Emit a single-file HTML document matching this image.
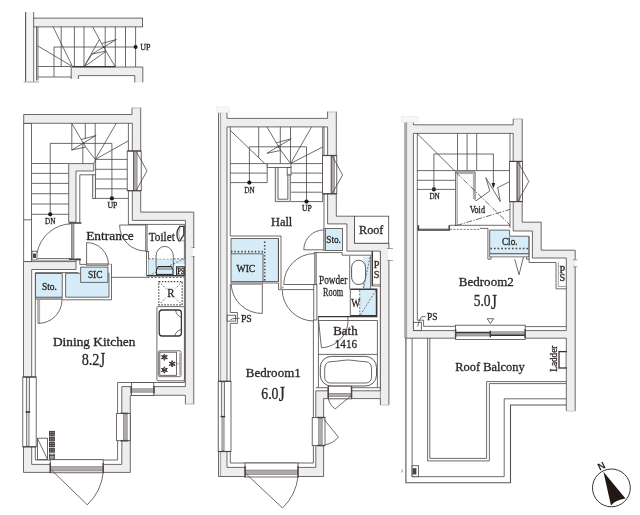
<!DOCTYPE html>
<html><head><meta charset="utf-8"><title>Floor plan</title>
<style>
html,body{margin:0;padding:0;background:#fff}
svg{display:block;will-change:transform}
text{font-family:"Liberation Serif",serif;fill:#2b2523;stroke:#2b2523;stroke-width:.3}
.l{fill:none;stroke:#4b4543;stroke-width:.8}
.lw{fill:#fff;stroke:#4b4543;stroke-width:.9}
.t{fill:none;stroke:#6a6462;stroke-width:.6}
.k{fill:none;stroke:#3a3433;stroke-width:1.4}
.w{fill:#eeeeee;stroke:#4b4543;stroke-width:.8;fill-rule:evenodd}
.wh{fill:#fff;stroke:#4b4543;stroke-width:.8}
.whn{fill:#fff;stroke:none}
.n{fill:#fff;stroke:#4b4543;stroke-width:.8}
.nf{fill:none;stroke:#4b4543;stroke-width:.8}
.b{fill:#d6ecf8;stroke:#4b4543;stroke-width:.8}
.bn{fill:#d6ecf8;stroke:none}
.g{fill:#aeaaa9;stroke:#6a6462;stroke-width:.5}
.g2{fill:#a9a5a4;stroke:#5a5452;stroke-width:.5}
.k2{fill:#4b4543;stroke:none}
.jp{fill:none;stroke:#3a3433;stroke-width:.9}
.d{fill:#231815;stroke:none}
.tk{fill:#d6ecf8;stroke:#2b2523;stroke-width:1.1}
.snk{fill:#fff;stroke:#3a3433;stroke-width:1.3}
.lb{fill:none;stroke:#3a3433;stroke-width:1}
.sash{fill:#e4e4e4;stroke:#4b4543;stroke-width:.7}
.trk{fill:#eef3f6;stroke:#4b4543;stroke-width:.7}
.dot3{fill:none;stroke:#4b4543;stroke-width:1.5;stroke-dasharray:1.6 2}
.lwf{fill:#f5f5f5;stroke:none}
.wf{fill:#eeeeee;stroke:none}
.k1{fill:none;stroke:#5a5452;stroke-width:1.1}
.jpb{fill:#a9a4a2;stroke:none}
.psb{fill:#fff;stroke:#3a3433;stroke-width:1.2}
.tk2{fill:none;stroke:#3a3433;stroke-width:1.6}
.cap{fill:#f7f7f7;stroke:#e8e8e8;stroke-width:.6}
.dashk{fill:none;stroke:#4b4543;stroke-width:1.2;stroke-dasharray:1.5 1.5}
.dash{fill:none;stroke:#4b4543;stroke-width:.8;stroke-dasharray:1.6 1.6}
.dsh{fill:none;stroke:#4b4543;stroke-width:.8;stroke-dasharray:2 1.6}
.dsh2{fill:none;stroke:#4b4543;stroke-width:.7;stroke-dasharray:2 1.4}
.dot{fill:none;stroke:#4b4543;stroke-width:1.6;stroke-dasharray:1.4 2}
.dot2{fill:none;stroke:#4b4543;stroke-width:1.2;stroke-dasharray:1.2 1.6}
.dd{fill:none;stroke:#4b4543;stroke-width:.8;stroke-dasharray:6 1.5 1.2 1.5}
.wl2{fill:none;stroke:#f4f4f4;stroke-width:1.2}
.wl{fill:none;stroke:#fff;stroke-width:.7}
</style></head><body>
<svg width="640" height="515" viewBox="0 0 640 515">
<rect width="640" height="515" fill="#fff"/>
<rect class="lwf" x="25.5" y="12" width="8.2" height="69.6" />
<rect class="w" x="33.7" y="18.1" width="108.9" height="8.8" />
<line class="k1" x1="25.6" y1="12" x2="25.6" y2="81.6" />
<line class="l" x1="33.7" y1="12" x2="33.7" y2="18.1" />
<line class="l" x1="33.7" y1="26.9" x2="33.7" y2="81.6" />
<line class="t" x1="23.6" y1="82" x2="39" y2="82" />
<polygon class="wf" points="71.2,67 142.8,67 142.8,82.4 134.8,82.4 134.8,75.6 78.4,75.6 78.4,79 71.2,79" />
<polyline class="l" points="71.2,79 71.2,67 142.8,67 142.8,82.4" />
<polyline class="l" points="78.4,79 78.4,75.6 134.8,75.6 134.8,82.4" />
<line class="l" x1="36.5" y1="26.7" x2="36.5" y2="80.5" />
<line class="l" x1="37.9" y1="26.7" x2="37.9" y2="80.5" />
<line class="l" x1="61.2" y1="26.7" x2="61.2" y2="67" />
<line class="l" x1="74.4" y1="26.7" x2="74.4" y2="67" />
<line class="l" x1="84" y1="26.7" x2="84" y2="67" />
<line class="l" x1="105.2" y1="26.7" x2="105.2" y2="67" />
<line class="l" x1="115.3" y1="26.7" x2="115.3" y2="67" />
<line class="l" x1="125.5" y1="26.7" x2="125.5" y2="67" />
<line class="l" x1="135.6" y1="26.7" x2="135.6" y2="67" />
<line class="l" x1="54" y1="47" x2="135.6" y2="47" />
<line class="l" x1="54" y1="47" x2="54" y2="77" />
<line class="l" x1="37.9" y1="66.5" x2="71.2" y2="66.5" />
<line class="l" x1="37.9" y1="77" x2="71.2" y2="77" />
<line class="l" x1="53" y1="26.7" x2="72.5" y2="66.5" />
<line class="l" x1="37.9" y1="46" x2="72.5" y2="66.5" />
<line class="k" x1="72.5" y1="66.6" x2="115" y2="66.6" />
<line class="l" x1="92.6" y1="26.7" x2="101.5" y2="43.5" />
<circle class="d" cx="103.8" cy="47.2" r="0.9"/>
<polygon class="nf" points="101.5,43.5 116.4,39.5 92.1,54 106,51.1" />
<line class="l" x1="106" y1="51.1" x2="115.4" y2="67" />
<line class="l" x1="83.9" y1="67" x2="99.3" y2="39.5" />
<line class="l" x1="83.9" y1="67" x2="92.1" y2="54" />
<line class="l" x1="83.9" y1="67" x2="106" y2="51.3" />
<circle class="d" cx="135.6" cy="47" r="2"/>
<text x="140.3" y="50.2" font-size="8.6" text-anchor="start" textLength="10.2" lengthAdjust="spacingAndGlyphs" >UP</text>
<rect class="wh" x="23.7" y="123.3" width="7.7" height="138.3" />
<line class="l" x1="23.7" y1="219.8" x2="31.4" y2="219.8" />
<polygon class="w" points="23.7,114.5 132,114.5 132,108 140.7,108 140.7,212.1 193.75,212.1 193.75,404 185.4,404 185.4,395.3 130.3,395.3 130.3,472.4 23.5,472.4 23.5,261.6 76,261.6 76,269.5 31.7,269.5 31.7,464.4 121.8,464.4 121.8,386.6 185.4,386.6 185.4,220.4 132.3,220.4 132.3,123.3 23.7,123.3" />
<polyline class="l" points="128.4,123.3 128.4,224.4 184.4,224.4 184.4,382.5 117.6,382.5 117.6,460 35.3,460 35.3,272.6 78.3,272.6" />
<polyline class="l" points="76,261.6 76,259 79.8,259 79.8,264.4 86.5,264.4" />
<polygon class="w" points="68.7,163.6 93.8,163.6 93.8,171 76,171 76,222.2 68.7,222.2" />
<polyline class="l" points="79.8,222.2 79.8,174.8 93.8,174.8" />
<rect class="w" x="92.7" y="174.8" width="2.9" height="23.6" />
<polyline class="l" points="93.8,163.6 95.6,159.4 95.6,174.8" />
<line class="l" x1="31.4" y1="163.5" x2="68.7" y2="163.5" />
<line class="l" x1="31.4" y1="173.4" x2="68.7" y2="173.4" />
<line class="l" x1="31.4" y1="183.4" x2="68.7" y2="183.4" />
<line class="l" x1="31.4" y1="193.7" x2="68.7" y2="193.7" />
<line class="l" x1="31.4" y1="204" x2="68.7" y2="204" />
<line class="l" x1="31.4" y1="214.3" x2="68.7" y2="214.3" />
<line class="l" x1="95.6" y1="159.4" x2="128.4" y2="159.4" />
<line class="l" x1="95.6" y1="169.3" x2="128.4" y2="169.3" />
<line class="l" x1="95.6" y1="179" x2="128.4" y2="179" />
<line class="l" x1="95.6" y1="188.8" x2="128.4" y2="188.8" />
<line class="l" x1="95.6" y1="198.4" x2="128.4" y2="198.4" />
<polyline class="l" points="50.2,214.3 50.2,143.4 111.9,143.4 111.9,198.4" />
<circle class="d" cx="50.2" cy="214.3" r="2.1"/>
<circle class="d" cx="111.9" cy="198.4" r="2.1"/>
<line class="l" x1="71.8" y1="123.3" x2="71.8" y2="150.3" />
<line class="l" x1="82.8" y1="143.4" x2="82.8" y2="163.5" />
<line class="l" x1="85.3" y1="123.3" x2="85.3" y2="139" />
<line class="l" x1="95.2" y1="123.3" x2="95.2" y2="159.4" />
<line class="l" x1="95.3" y1="159.4" x2="116.3" y2="123.3" />
<line class="l" x1="95.3" y1="159.4" x2="128.4" y2="140.8" />
<line class="l" x1="71.8" y1="123.3" x2="81.2" y2="139.5" />
<circle class="d" cx="83.5" cy="143.2" r="0.9"/>
<polygon class="nf" points="81.2,139.5 96.10000000000001,135.5 71.8,150 85.7,147.1" />
<line class="l" x1="85.7" y1="147.1" x2="95.2" y2="159.4" />
<text x="50.2" y="224" font-size="8" text-anchor="middle" textLength="10.4" lengthAdjust="spacingAndGlyphs" >DN</text>
<text x="112.4" y="207.8" font-size="8" text-anchor="middle" textLength="10" lengthAdjust="spacingAndGlyphs" >UP</text>
<rect class="wh" x="127.2" y="151" width="14.0" height="39.7" />
<rect class="g" x="133.6" y="151.6" width="3.5" height="38.6" />
<line class="l" x1="133.6" y1="151" x2="133.6" y2="190.7" />
<polyline class="l" points="136.3,151.6 147,170.9 136.3,190.2" />
<rect class="k2" x="127.6" y="150.4" width="13.4" height="1.2" />
<rect class="k2" x="127.6" y="190.1" width="13.4" height="1.2" />
<rect class="k2" x="68.7" y="222.2" width="12.7" height="1.6" />
<rect class="g2" x="71.3" y="223.8" width="2.7" height="35.0" />
<rect class="k2" x="68.9" y="258.6" width="12.1" height="1.8" />
<path class="l" d="M71.3,223.8 A35.5,35.5 0 0 0 37.2,252.5" />
<line class="l" x1="37.5" y1="258.6" x2="71" y2="258.6" />
<line class="t" x1="37.5" y1="260.4" x2="69" y2="260.4" />
<rect class="wh" x="32" y="251.2" width="5" height="8.8" />
<rect class="k2" x="33" y="253.5" width="3" height="4.5" />
<polygon class="b" points="65.6,273.3 80.6,273.3 80.6,267.1 107.9,267.1 107.9,273.3 109,273.3 109,297.2 65.6,297.2" />
<polyline class="l" points="80.6,273.3 80.6,282.4 107.9,282.4 107.9,273.3" />
<polyline class="l" points="111.5,264.2 111.5,299.8 62.2,299.8" />
<polyline class="t" points="107.9,267.1 107.9,264.2 111.5,264.2" />
<rect class="g2" x="86.2" y="263.8" width="21.6" height="1.8" />
<line class="l" x1="86.6" y1="242.6" x2="86.6" y2="264.4" />
<path class="l" d="M86.6,242.6 A21.8,21.8 0 0 1 108.4,264.4" />
<text x="87.9" y="277.5" font-size="10.8" text-anchor="start" textLength="14.6" lengthAdjust="spacingAndGlyphs" >SIC</text>
<rect class="b" x="35.4" y="273.4" width="26.8" height="23.8" />
<rect class="g2" x="35.4" y="297.2" width="26.8" height="2.2" />
<text x="41.9" y="290" font-size="10" text-anchor="start" textLength="15" lengthAdjust="spacingAndGlyphs" >Sto.</text>
<line class="l" x1="38" y1="300" x2="38" y2="323.4" />
<line class="t" x1="39.6" y1="300" x2="39.6" y2="323.4" />
<path class="l" d="M38,323.4 A23.6,23.6 0 0 0 62,299.6" />
<text x="86.2" y="239.8" font-size="13.2" text-anchor="start" textLength="47.6" lengthAdjust="spacingAndGlyphs" >Entrance</text>
<line class="l" x1="111.2" y1="277.3" x2="147.5" y2="277.3" />
<line class="l" x1="119.6" y1="225" x2="146" y2="225" />
<path class="l" d="M119.6,225 A26,26 0 0 0 146,251" />
<rect class="g2" x="145.3" y="224.6" width="1.9" height="26.7" />
<rect class="wh" x="146.6" y="251.3" width="1.8" height="24.5" />
<rect class="bn" x="148.4" y="258.8" width="36.0" height="17.0" />
<line class="dsh" x1="148.4" y1="258.8" x2="184.4" y2="258.8" />
<line class="dsh2" x1="148.6" y1="275.6" x2="184.2" y2="258.9" />
<rect class="whn" x="175.6" y="264.4" width="8.8" height="11.4" />
<rect class="psb" x="176.6" y="266.8" width="7.7" height="8.4" />
<text x="177.6" y="274.2" font-size="7.4" text-anchor="start" textLength="6.4" lengthAdjust="spacingAndGlyphs" font-weight="bold">PS</text>
<path class="whn" d="M156.1,258.8 V256 A8.6,9.6 0 0 1 173.3,256 V258.8 Z" />
<path class="l" d="M156.1,267.6 V256 A8.6,9.6 0 0 1 173.3,256 V267.6" />
<path class="tk" d="M158.4,266.6 H171.1 L173,269 V274.2 Q173,275 172,275 H157.4 Q156.4,275 156.4,274.2 V269 Z" />
<line class="l" x1="156.4" y1="269" x2="173" y2="269" />
<line class="k" x1="157" y1="274.6" x2="172.4" y2="274.6" />
<line class="k" x1="147.2" y1="275.8" x2="184.4" y2="275.8" />
<line class="dsh" x1="147.4" y1="277.5" x2="184" y2="277.5" />
<path class="snk" d="M179.8,226.4 H183.8 V234.6 L180,240.8 H178.8 Q174.4,233.4 179.8,226.4 Z" />
<path class="t" d="M180.2,227.4 Q177.4,233 179.6,239" />
<line class="t" x1="179" y1="240.8" x2="184.4" y2="240.8" />
<text x="148.8" y="241.3" font-size="13.2" text-anchor="start" textLength="26" lengthAdjust="spacingAndGlyphs" >Toilet</text>
<rect class="whn" x="192.8" y="247.6" width="2.2" height="9.0" />
<line class="t" x1="191.5" y1="247.6" x2="195" y2="247.6" />
<line class="t" x1="191.5" y1="256.6" x2="195" y2="256.6" />
<rect class="dashk" x="158.8" y="281.6" width="23.4" height="23.2" />
<line class="dash" x1="158.8" y1="281.6" x2="182.2" y2="304.8" />
<line class="dash" x1="182.2" y1="281.6" x2="158.8" y2="304.8" />
<rect class="whn" x="166" y="287.5" width="9.5" height="10.5" />
<text x="167.2" y="296.6" font-size="12" text-anchor="start" textLength="7.2" lengthAdjust="spacingAndGlyphs" >R</text>
<rect class="wh" x="156.9" y="306.6" width="27.5" height="74.2" rx="1.2"/>
<rect class="snk" x="159.2" y="310" width="22.2" height="26" rx="3"/>
<path class="l" d="M175.6,310 Q176.4,315.6 181.4,317.3 M174.8,336 Q176,330.6 181.4,329.6" />
<rect class="wh" x="158.3" y="350.8" width="22.7" height="25.9" rx="1.5"/>
<rect class="wh" x="159.8" y="352.2" width="16.6" height="23.1" />
<line class="t" x1="179.7" y1="353" x2="179.7" y2="375" />
<g transform="translate(164.4,357.2)"><circle class="k" r="0.9"/><path class="lb" d="M0,-3.2L0.9,-1.2 3,-1.6 1.5,0 3,1.6 0.9,1.2 0,3.2 -0.9,1.2 -3,1.6 -1.5,0 -3,-1.6 -0.9,-1.2Z"/></g>
<g transform="translate(172.2,363.8)"><circle class="k" r="0.9"/><path class="lb" d="M0,-3.2L0.9,-1.2 3,-1.6 1.5,0 3,1.6 0.9,1.2 0,3.2 -0.9,1.2 -3,1.6 -1.5,0 -3,-1.6 -0.9,-1.2Z"/></g>
<g transform="translate(164.4,370)"><circle class="k" r="0.9"/><path class="lb" d="M0,-3.2L0.9,-1.2 3,-1.6 1.5,0 3,1.6 0.9,1.2 0,3.2 -0.9,1.2 -3,1.6 -1.5,0 -3,-1.6 -0.9,-1.2Z"/></g>
<line class="t" x1="176.3" y1="363.8" x2="179.7" y2="363.8" />
<rect class="wh" x="131.4" y="382.6" width="22.4" height="12.9" />
<rect class="g" x="131.8" y="388.8" width="21.6" height="3.4" />
<rect class="k2" x="130.4" y="386" width="1.5" height="7.4" />
<rect class="k2" x="153.3" y="386" width="1.5" height="7.4" />
<rect class="wh" x="116.6" y="413.4" width="13.6" height="27.3" />
<rect class="g" x="123.4" y="414" width="3.8" height="26.1" />
<rect class="k2" x="120.5" y="412.6" width="7.9" height="1.4" />
<rect class="k2" x="120.5" y="440.1" width="7.9" height="1.4" />
<rect class="wh" x="22.8" y="377" width="13.4" height="69.8" />
<rect class="sash" x="26.3" y="377.6" width="3.3" height="34.4" />
<rect class="sash" x="26.7" y="412" width="2.3" height="34.2" />
<line class="k" x1="25.6" y1="412" x2="30.2" y2="412" />
<rect class="k2" x="22.8" y="376.4" width="13.4" height="1.2" />
<rect class="k2" x="22.8" y="446.2" width="13.4" height="1.2" />
<rect class="wh" x="50.2" y="459.7" width="53.0" height="13.1" />
<rect class="g" x="50.6" y="466.6" width="52.2" height="4.4" />
<rect class="k2" x="49.6" y="463" width="1.4" height="10" />
<rect class="k2" x="102.5" y="463" width="1.4" height="10" />
<path class="l" d="M50.4,469 L87.3,504.8 A52,52 0 0 0 103.2,472.8" />
<rect class="wh" x="37.4" y="438.2" width="10.1" height="21.2" />
<line class="l" x1="37.4" y1="438.2" x2="47.5" y2="459.4" />
<rect class="jpb" x="49" y="431.2" width="5.8" height="4.5" />
<line class="jp" x1="49" y1="431.4" x2="54.8" y2="431.4" />
<line class="jp" x1="49" y1="433.29999999999995" x2="54.8" y2="433.29999999999995" />
<line class="jp" x1="49" y1="435.29999999999995" x2="54.8" y2="435.29999999999995" />
<line class="jp" x1="51.9" y1="431.2" x2="51.9" y2="435.5" />
<line class="jp" x1="49.6" y1="431.4" x2="49.6" y2="435.29999999999995" />
<line class="jp" x1="54.199999999999996" y1="431.4" x2="54.199999999999996" y2="435.29999999999995" />
<rect class="jpb" x="49" y="436.8" width="5.8" height="4.5" />
<line class="jp" x1="49" y1="437.0" x2="54.8" y2="437.0" />
<line class="jp" x1="49" y1="438.9" x2="54.8" y2="438.9" />
<line class="jp" x1="49" y1="440.9" x2="54.8" y2="440.9" />
<line class="jp" x1="51.9" y1="436.8" x2="51.9" y2="441.1" />
<line class="jp" x1="49.6" y1="437.0" x2="49.6" y2="440.9" />
<line class="jp" x1="54.199999999999996" y1="437.0" x2="54.199999999999996" y2="440.9" />
<rect class="jpb" x="49" y="442.40000000000003" width="5.8" height="4.5" />
<line class="jp" x1="49" y1="442.6" x2="54.8" y2="442.6" />
<line class="jp" x1="49" y1="444.5" x2="54.8" y2="444.5" />
<line class="jp" x1="49" y1="446.5" x2="54.8" y2="446.5" />
<line class="jp" x1="51.9" y1="442.40000000000003" x2="51.9" y2="446.70000000000005" />
<line class="jp" x1="49.6" y1="442.6" x2="49.6" y2="446.5" />
<line class="jp" x1="54.199999999999996" y1="442.6" x2="54.199999999999996" y2="446.5" />
<rect class="jpb" x="49" y="448.0" width="5.8" height="4.5" />
<line class="jp" x1="49" y1="448.2" x2="54.8" y2="448.2" />
<line class="jp" x1="49" y1="450.09999999999997" x2="54.8" y2="450.09999999999997" />
<line class="jp" x1="49" y1="452.09999999999997" x2="54.8" y2="452.09999999999997" />
<line class="jp" x1="51.9" y1="448.0" x2="51.9" y2="452.3" />
<line class="jp" x1="49.6" y1="448.2" x2="49.6" y2="452.09999999999997" />
<line class="jp" x1="54.199999999999996" y1="448.2" x2="54.199999999999996" y2="452.09999999999997" />
<rect class="jpb" x="49" y="453.6" width="5.8" height="4.5" />
<line class="jp" x1="49.6" y1="453.7" x2="49.6" y2="458.90000000000003" />
<line class="jp" x1="54.199999999999996" y1="453.7" x2="54.199999999999996" y2="458.90000000000003" />
<line class="jp" x1="49" y1="455.3" x2="54.8" y2="455.3" />
<line class="jp" x1="49" y1="458.90000000000003" x2="54.8" y2="458.90000000000003" />
<text x="53" y="346.2" font-size="13.2" text-anchor="start" textLength="82.4" lengthAdjust="spacingAndGlyphs" >Dining Kitchen</text>
<text x="81.7" y="364.5" font-size="16.8" text-anchor="start" textLength="17.8" lengthAdjust="spacingAndGlyphs" >8.2</text>
<text x="99.6" y="366.9" font-size="20.6" text-anchor="start" textLength="5.6" lengthAdjust="spacingAndGlyphs" >J</text>
<path class="w" d="M218.5,108.5 H227 V118.4 H327.6 V111.8 H336.3 V216.2 H354.6 V243.2 H388.9 V404.8 H380.4 V398.6 H323.6 V476.5 H218.5 Z M227,126.9 H327.6 V223.9 H346.9 V251.1 H380.4 V390.8 H315.8 V467.4 H227 Z" />
<rect class="cap" x="216.3" y="107" width="13.2" height="5.6" />
<line class="t" x1="220.6" y1="112.6" x2="220.6" y2="476.5" />
<polyline class="l" points="230.3,126.9 230.3,236" />
<polyline class="l" points="230.3,284 230.3,312.5 237.4,312.5 237.4,323.4 230.3,323.4 230.3,463 313.4,463 313.4,320" />
<polyline class="l" points="324,126.9 324,228.6" />
<line class="l" x1="322.7" y1="126.9" x2="322.7" y2="201.6" />
<line class="l" x1="377.4" y1="320.5" x2="377.4" y2="387.7" />
<line class="t" x1="380.4" y1="251.1" x2="380.4" y2="398.6" />
<line class="l" x1="230.3" y1="163.6" x2="267.2" y2="163.6" />
<line class="l" x1="230.3" y1="173.1" x2="267.2" y2="173.1" />
<line class="l" x1="230.3" y1="182.6" x2="267.2" y2="182.6" />
<line class="l" x1="291" y1="163.6" x2="322.7" y2="163.6" />
<line class="l" x1="291" y1="173.1" x2="322.7" y2="173.1" />
<line class="l" x1="291" y1="182.6" x2="322.7" y2="182.6" />
<line class="l" x1="291" y1="192.2" x2="322.7" y2="192.2" />
<line class="l" x1="291" y1="201.6" x2="322.7" y2="201.6" />
<line class="l" x1="267.2" y1="163.6" x2="267.2" y2="182.6" />
<polyline class="l" points="249.4,182.6 249.4,146.8 306.5,146.8 306.5,201.6" />
<circle class="d" cx="249.4" cy="182.6" r="2.1"/>
<circle class="d" cx="306.5" cy="201.6" r="2.1"/>
<line class="l" x1="230.3" y1="130.4" x2="264.8" y2="163.6" />
<line class="l" x1="258.7" y1="126.9" x2="258.7" y2="157.8" />
<line class="l" x1="280.3" y1="126.9" x2="280.3" y2="163.6" />
<line class="l" x1="290.5" y1="126.9" x2="290.5" y2="163.6" />
<line class="l" x1="290.7" y1="163.4" x2="311.6" y2="126.9" />
<line class="l" x1="290.7" y1="163.4" x2="322.7" y2="147" />
<line class="l" x1="267" y1="126.9" x2="276.3" y2="142.8" />
<circle class="d" cx="278.6" cy="146.5" r="0.9"/>
<polygon class="nf" points="276.3,142.8 291.20000000000005,138.8 266.9,153.3 280.8,150.4" />
<line class="l" x1="280.8" y1="150.4" x2="290.5" y2="163.4" />
<rect class="wh" x="267.2" y="163.7" width="23.8" height="3.8" />
<rect class="wh" x="287.2" y="167.5" width="3.8" height="7.5" />
<path class="w" d="M275.3,167.5 V201.6 H290.3 V175 H287.8 V199.2 H278 V167.5 Z" />
<text x="249.4" y="192.6" font-size="8" text-anchor="middle" textLength="10.4" lengthAdjust="spacingAndGlyphs" >DN</text>
<text x="306.8" y="211.3" font-size="8" text-anchor="middle" textLength="9.8" lengthAdjust="spacingAndGlyphs" >UP</text>
<text x="271" y="225.5" font-size="12.9" text-anchor="start" textLength="21.3" lengthAdjust="spacingAndGlyphs" >Hall</text>
<rect class="wh" x="322.6" y="155.5" width="14.2" height="38.3" />
<rect class="g" x="331.2" y="156.1" width="3.2" height="37.1" />
<line class="l" x1="331.2" y1="155.5" x2="331.2" y2="193.8" />
<polyline class="l" points="332.4,156.2 342.6,175 332.4,193.2" />
<rect class="k2" x="322.8" y="154.9" width="13.8" height="1.2" />
<rect class="k2" x="322.8" y="193.2" width="13.8" height="1.2" />
<rect class="wh" x="354.6" y="216.2" width="34.1" height="27.0" />
<text x="359" y="234.4" font-size="13" text-anchor="start" textLength="24.4" lengthAdjust="spacingAndGlyphs" >Roof</text>
<rect class="whn" x="388" y="248.7" width="8" height="11.5" />
<line class="t" x1="387" y1="248.5" x2="393" y2="248.5" />
<line class="t" x1="387" y1="260.4" x2="393" y2="260.4" />
<rect class="b" x="325.4" y="228.6" width="17.2" height="21.9" />
<rect class="g2" x="323.5" y="228.6" width="1.9" height="21.9" />
<text x="326.3" y="242.6" font-size="10" text-anchor="start" textLength="14.6" lengthAdjust="spacingAndGlyphs" >Sto.</text>
<line class="l" x1="303.8" y1="249.8" x2="323.4" y2="249.8" />
<path class="l" d="M303.8,249.8 A19.8,19.8 0 0 1 323.4,230" />
<rect class="b" x="231" y="238.6" width="47.4" height="43.0" />
<polyline class="l" points="230.3,236 281,236 281,289.7 278.6,289.7 278.6,283 262.3,283" />
<line class="l" x1="278.4" y1="238.6" x2="278.4" y2="281" />
<line class="dot" x1="231" y1="251.6" x2="264.7" y2="251.6" />
<line class="dot" x1="264.7" y1="241.6" x2="264.7" y2="280.4" />
<polyline class="l" points="231,253.8 263,253.8 263,281.6" />
<rect class="g2" x="231" y="281.6" width="31.4" height="2.6" />
<text x="236.5" y="272" font-size="10.4" text-anchor="start" textLength="18.8" lengthAdjust="spacingAndGlyphs" >WIC</text>
<line class="l" x1="262.3" y1="284.2" x2="262.3" y2="313.4" />
<path class="l" d="M262.3,313.4 A30.5,30.5 0 0 1 231.2,284.4" />
<rect class="wh" x="227.2" y="315.2" width="8.2" height="5.9" />
<path class="l" d="M230.4,319.9 Q232.5,318.4 235,318.4 H239.6" />
<text x="240.9" y="321.5" font-size="10" text-anchor="start" textLength="10.9" lengthAdjust="spacingAndGlyphs" >PS</text>
<polyline class="l" points="314.4,252.6 342.2,252.6 342.2,255.2 372.2,255.2" />
<rect class="g2" x="314.4" y="252.6" width="2.0" height="31.9" />
<rect class="wh" x="313.8" y="284.5" width="3.1" height="35.5" />
<path class="l" d="M314.4,253.5 A31,31 0 0 0 283.8,284.5" />
<line class="l" x1="283.8" y1="284.5" x2="314.4" y2="284.5" />
<polyline class="t" points="281.9,289.7 281.9,287.2 284,287.2" />
<line class="l" x1="282.2" y1="289.6" x2="313.8" y2="289.6" />
<path class="l" d="M282.2,289.6 A31.6,31.6 0 0 0 313.8,321" />
<line class="l" x1="349.7" y1="256" x2="349.7" y2="289.2" />
<rect class="bn" x="363.3" y="256.6" width="7.3" height="32.2" />
<line class="l" x1="370.7" y1="256" x2="370.7" y2="289" />
<line class="dsh2" x1="363.3" y1="262" x2="363.3" y2="288.4" />
<line class="dsh2" x1="370" y1="257" x2="363.6" y2="288" />
<rect class="lw" x="351.6" y="260.3" width="14.0" height="24.2" rx="6.6" ry="7.4"/>
<line class="k" x1="372.3" y1="251.1" x2="372.3" y2="286" />
<line class="l" x1="372.3" y1="286" x2="380.4" y2="286" />
<line class="t" x1="372.3" y1="284.4" x2="380.4" y2="284.4" />
<text x="376.5" y="267.8" font-size="10.2" text-anchor="middle" >P</text>
<text x="376.5" y="277.5" font-size="10.2" text-anchor="middle" >S</text>
<rect class="bn" x="359.7" y="289.6" width="16.7" height="26.0" />
<path class="tk2" d="M350.3,289.2 H376.6 V315.8 H350.3" />
<line class="l" x1="350.3" y1="289.2" x2="350.3" y2="315.8" />
<line class="dsh2" x1="359.7" y1="290" x2="359.7" y2="315.5" />
<line class="dsh2" x1="376" y1="290.2" x2="360.2" y2="315.4" />
<text x="351.2" y="307.1" font-size="12.5" text-anchor="start" textLength="9" lengthAdjust="spacingAndGlyphs" >W</text>
<text x="319" y="284.4" font-size="13" text-anchor="start" textLength="28.3" lengthAdjust="spacingAndGlyphs" >Powder</text>
<text x="323" y="296.3" font-size="13" text-anchor="start" textLength="20.2" lengthAdjust="spacingAndGlyphs" >Room</text>
<line class="k" x1="318" y1="316.6" x2="377.4" y2="316.6" />
<line class="l" x1="318.4" y1="320.5" x2="377.4" y2="320.5" />
<line class="l" x1="318.4" y1="316.6" x2="318.4" y2="387.7" />
<line class="l" x1="318.4" y1="354.4" x2="377.4" y2="354.4" />
<line class="l" x1="315.8" y1="387.7" x2="380.6" y2="387.7" />
<path class="l" d="M318.6,320.5 L321.4,347.8 A27.6,27.6 0 0 0 347.9,317" />
<text x="333.2" y="335.2" font-size="12.8" text-anchor="start" textLength="24.4" lengthAdjust="spacingAndGlyphs" >Bath</text>
<text x="334.8" y="348.4" font-size="12.8" text-anchor="start" textLength="22.2" lengthAdjust="spacingAndGlyphs" >1416</text>
<rect class="lw" x="320.3" y="356.4" width="56.2" height="29.6" rx="11" ry="11"/>
<path class="l" d="M330,361.8 Q338,361.2 343,360.4 Q348,359.6 353,360.4 Q358,361.2 366,361.8 Q371.5,362.2 371.5,369 V377 Q371.5,383 365,383 H331 Q324.7,383 324.7,377 V369 Q324.7,362.2 330,361.8 Z" />
<rect class="wh" x="328.2" y="386.2" width="23.4" height="12.6" />
<rect class="g" x="328.6" y="393.3" width="22.6" height="3.2" />
<rect class="k2" x="327.5" y="387" width="1.5" height="11" />
<rect class="k2" x="350.8" y="387" width="1.5" height="11" />
<path class="l" d="M328.4,398.7 Q329.6,405 335.2,408.9 L350.9,395.9" />
<rect class="wh" x="312.2" y="417.5" width="12.8" height="28.1" />
<rect class="g" x="318.6" y="418.1" width="3.6" height="26.9" />
<rect class="k2" x="317" y="416.8" width="8" height="1.4" />
<rect class="k2" x="317" y="444.9" width="8" height="1.4" />
<path class="l" d="M324,419.4 L338.4,437 Q333.4,443.4 325,444.8" />
<rect class="wh" x="218.2" y="381.3" width="12.8" height="70.2" />
<rect class="sash" x="221.3" y="381.9" width="3.3" height="34.7" />
<rect class="sash" x="222" y="416.6" width="2" height="34.3" />
<line class="k" x1="220.6" y1="416.6" x2="225.2" y2="416.6" />
<rect class="k2" x="218.2" y="380.7" width="12.8" height="1.2" />
<rect class="k2" x="218.2" y="450.9" width="12.8" height="1.2" />
<rect class="wh" x="245" y="463" width="53" height="14" />
<rect class="g" x="245.4" y="470" width="52.2" height="4.6" />
<rect class="k2" x="244.4" y="466" width="1.4" height="11.4" />
<rect class="k2" x="297.3" y="466" width="1.4" height="11.4" />
<path class="l" d="M245.2,473 L282.5,508 A52,52 0 0 0 298,476.8" />
<text x="245.8" y="377.4" font-size="13.2" text-anchor="start" textLength="55" lengthAdjust="spacingAndGlyphs" >Bedroom1</text>
<text x="261.3" y="398.75" font-size="16.8" text-anchor="start" textLength="17.2" lengthAdjust="spacingAndGlyphs" >6.0</text>
<text x="278.7" y="401.1" font-size="20.6" text-anchor="start" textLength="6.1" lengthAdjust="spacingAndGlyphs" >J</text>
<path class="w" d="M405,119.5 H413.4 V124.8 H513.2 V119 H522.2 V222.2 H541.2 V250.2 H575.2 V410.8 H566.3 V338.2 H405 Z M413.4,133.4 H513.2 V231 H532.4 V258 H566.3 V330.6 H413.4 Z" />
<rect class="cap" x="401.3" y="116.3" width="17.1" height="5.9" />
<line class="t" x1="406.6" y1="122.2" x2="406.6" y2="338" />
<polyline class="l" points="417.3,133.4 417.3,320.2 423.6,320.2 423.6,326.3 455.5,326.3" />
<rect class="wh" x="413.4" y="322.3" width="7.9" height="8.2" />
<line class="l" x1="524.7" y1="326.6" x2="566.3" y2="326.6" />
<polyline class="l" points="510,133.4 510,228" />
<polyline class="l" points="529.1,236.2 529.1,262.5 556,262.5 556,288.8 566.3,288.8" />
<polyline class="t" points="558.3,262.5 558.3,286.5 566.3,286.5" />
<text x="562.3" y="272.7" font-size="10.2" text-anchor="middle" >P</text>
<text x="562.3" y="280.9" font-size="10.2" text-anchor="middle" >S</text>
<rect class="whn" x="574.4" y="259.8" width="2.6" height="7.0" />
<line class="t" x1="573" y1="259.8" x2="577.5" y2="259.8" />
<line class="t" x1="573" y1="266.8" x2="577.5" y2="266.8" />
<line class="l" x1="417.2" y1="133.6" x2="455.6" y2="171.8" />
<line class="l" x1="457.5" y1="133.4" x2="457.5" y2="170.6" />
<line class="l" x1="467.1" y1="133.4" x2="467.1" y2="170.6" />
<line class="l" x1="476.7" y1="133.4" x2="476.7" y2="170.6" />
<polyline class="l" points="433.9,189.4 433.9,154 493.4,154 493.4,187" />
<path class="d" d="M493.4,188.4 L491.6,183 L495.2,183 Z" />
<circle class="d" cx="433.9" cy="189.4" r="2.1"/>
<line class="l" x1="416.9" y1="170.6" x2="510" y2="170.6" />
<line class="l" x1="416.9" y1="180.3" x2="455.6" y2="180.3" />
<line class="l" x1="416.9" y1="189.4" x2="455.6" y2="189.4" />
<polyline class="lw" points="455.7,226 455.7,172 475,172 475,199.8" />
<polyline class="t" points="457.3,226 457.3,173.6 473.4,173.6 473.4,199" />
<polyline class="l" points="475,199.8 476,200.8 489.8,191 485.8,177.6 500.3,201.6 497.7,187.6 510,181.5" />
<line class="dd" x1="456" y1="172.4" x2="510" y2="225" />
<line class="dd" x1="456.6" y1="225.5" x2="510" y2="209.4" />
<text x="469.7" y="213.1" font-size="9.4" text-anchor="start" textLength="15.3" lengthAdjust="spacingAndGlyphs" >Void</text>
<text x="434.6" y="198.7" font-size="8" text-anchor="middle" textLength="10.4" lengthAdjust="spacingAndGlyphs" >DN</text>
<line class="l" x1="449.5" y1="225.3" x2="510" y2="225.3" />
<polyline class="k" points="418.4,225.3 418.4,230 449.2,230 449.2,225.3" />
<line class="t" x1="419" y1="228.9" x2="448.8" y2="228.9" />
<line class="dsh2" x1="450" y1="229.4" x2="480.5" y2="229.4" />
<line class="l" x1="480" y1="228.4" x2="487.9" y2="228.4" />
<rect class="wh" x="509.4" y="161.4" width="13.2" height="40.2" />
<rect class="g" x="517" y="162" width="3" height="39" />
<line class="l" x1="517" y1="161.4" x2="517" y2="201.6" />
<polyline class="l" points="518,162 528.8,181.5 518,201" />
<rect class="k2" x="509.6" y="160.8" width="12.8" height="1.2" />
<rect class="k2" x="509.6" y="201" width="12.8" height="1.2" />
<polygon class="b" points="489.7,230.1 509.6,230.1 509.6,236.2 528.8,236.2 528.8,253.7 489.7,253.7" />
<rect class="trk" x="489.7" y="253.9" width="39.1" height="3.0" />
<polyline class="l" points="487.9,228.4 487.9,259.2 491,259.2 491,256.9" />
<polyline class="l" points="526.6,256.9 526.6,259.2 529.1,259.2" />
<line class="dot3" x1="490.4" y1="248.4" x2="528.6" y2="248.4" />
<text x="502" y="245" font-size="9.6" text-anchor="start" textLength="15.5" lengthAdjust="spacingAndGlyphs" >Clo.</text>
<polyline class="l" points="514.7,259.2 519,274.8 523.5,256.9" />
<rect class="wh" x="455.5" y="325.2" width="69.7" height="14.3" />
<rect class="g" x="456" y="332.5" width="34.3" height="3.5" />
<rect class="g" x="490.3" y="331.8" width="34.4" height="3.5" />
<line class="k" x1="456" y1="332.5" x2="490.3" y2="332.5" />
<line class="k" x1="490.3" y1="335.3" x2="524.7" y2="335.3" />
<rect class="k2" x="454.9" y="329" width="1.4" height="9" />
<rect class="k2" x="524.4" y="329" width="1.4" height="9" />
<line class="k" x1="490.3" y1="330.8" x2="490.3" y2="337.2" />
<path class="l" d="M487.2,318.7 H493.6 L490.4,323.6 Z" />
<path class="l" d="M417.6,326.6 Q419,319.4 421.6,316.7 H425.8" />
<text x="427" y="319.5" font-size="10" text-anchor="start" textLength="10.5" lengthAdjust="spacingAndGlyphs" >PS</text>
<text x="458.8" y="285.6" font-size="13.2" text-anchor="start" textLength="55" lengthAdjust="spacingAndGlyphs" >Bedroom2</text>
<text x="473.7" y="306.4" font-size="16.8" text-anchor="start" textLength="16.9" lengthAdjust="spacingAndGlyphs" >5.0</text>
<text x="490.9" y="308.7" font-size="20.6" text-anchor="start" textLength="5.9" lengthAdjust="spacingAndGlyphs" >J</text>
<polyline class="k1" points="405.9,338.2 405.9,482.7 510.5,482.7 510.5,405 566.3,405" />
<polyline class="l" points="412.1,338.2 412.1,476.7 504.2,476.7 504.2,398.8 566.3,398.8" />
<polyline class="l" points="427.6,338.2 427.6,460.9 489.4,460.9 489.4,383.6 566.3,383.6" />
<polyline class="l" points="429.8,338.2 429.8,458.4 486.6,458.4 486.6,381.6 566.3,381.6" />
<path class="t" d="M401,469.6 L402.9,471 L401,472.5" />
<rect class="wh" x="412.1" y="465.7" width="6.5" height="11.0" />
<rect class="k2" x="412.5" y="468.2" width="3.9" height="6.3" />
<rect class="snk" x="559" y="351.6" width="7.3" height="16.4" />
<line class="wl" x1="566.3" y1="352.4" x2="566.3" y2="367.2" />
<text x="0" y="0" font-size="10" text-anchor="start" textLength="26" lengthAdjust="spacingAndGlyphs" transform="translate(557,371.7) rotate(-90)">Ladder</text>
<text x="455.3" y="371.3" font-size="13.2" text-anchor="start" textLength="69.4" lengthAdjust="spacingAndGlyphs" >Roof Balcony</text>
<line class="wl2" x1="566.8" y1="410.8" x2="574.8" y2="410.8" />
<line class="wl2" x1="513.7" y1="119" x2="521.7" y2="119" />
<line class="wl2" x1="328.1" y1="111.8" x2="335.8" y2="111.8" />
<line class="wl2" x1="132.5" y1="108" x2="140.2" y2="108" />
<line class="wl2" x1="380.9" y1="404.8" x2="388.4" y2="404.8" />
<line class="wl2" x1="185.9" y1="404" x2="193.3" y2="404" />
<circle cx="611.4" cy="487.9" r="18.9" fill="none" stroke="#3a3433" stroke-width="1"/>
<path class="d" d="M603.4,471.7 L625.5,498.6 Q615.4,499.9 611,505.6 Z" />
<text x="0" y="0" font-size="10" text-anchor="middle" transform="translate(601.3,466) rotate(-27)" style="font-family:'Liberation Sans',sans-serif;font-weight:bold;stroke:none" dy="3.4">N</text>
</svg>
</body></html>
